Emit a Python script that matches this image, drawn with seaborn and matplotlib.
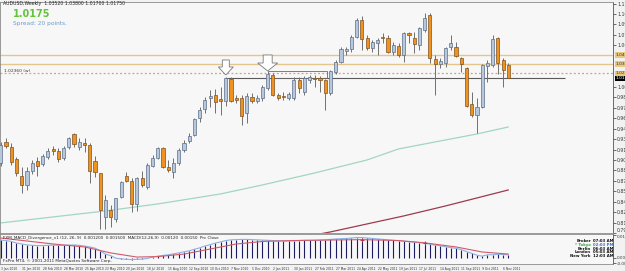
import matplotlib
matplotlib.use('Agg')
import matplotlib.pyplot as plt
import matplotlib.transforms as mtransforms
from matplotlib.patches import Polygon, Rectangle
import seaborn as sns

sns.set_style('white')
plt.rcParams['font.family'] = ['DejaVu Sans']

# AUDUSD weekly, bar 0 = week of 3 Jan 2010 ... bar 97 = week of 13 Nov 2011
opens = [0.8980, 0.9274, 0.9204, 0.9036, 0.8798, 0.8672, 0.8868, 0.9008, 0.8966, 0.9064,
         0.9176, 0.9148, 0.9050, 0.9204, 0.9386, 0.9204, 0.9260, 0.9232, 0.9008, 0.8840,
         0.8224, 0.8322, 0.8196, 0.8504, 0.8798, 0.8728, 0.8406, 0.8770, 0.8644, 0.8938,
         0.9050, 0.9190, 0.8924, 0.8854, 0.8980, 0.9162, 0.9288, 0.9372, 0.9610, 0.9736,
         0.9890, 0.9932, 0.9876, 0.9848, 1.0156, 0.9890, 0.9890, 0.9680, 0.9904, 0.9848,
         0.9890, 1.0030, 1.0212, 0.9932, 0.9918, 0.9890, 0.9890, 1.0142, 0.9974, 1.0142,
         1.0170, 1.0170, 1.0142, 0.9960, 1.0254, 1.0394, 1.0548, 1.0576, 1.0744, 1.0982,
         1.0730, 1.0590, 1.0660, 1.0744, 1.0730, 1.0534, 1.0618, 1.0492, 1.0800, 1.0730,
         1.0632, 1.0842, 1.1052, 1.0436, 1.0366, 1.0380, 1.0604, 1.0604, 1.0450, 1.0310,
         0.9806, 0.9652, 0.9764, 1.0338, 1.0352, 1.0730, 1.0422, 1.0352]
highs = [0.9274, 0.9330, 0.9260, 0.9064, 0.8924, 0.8924, 0.9022, 0.9064, 0.9106, 0.9190,
         0.9218, 0.9190, 0.9218, 0.9344, 0.9400, 0.9330, 0.9330, 0.9260, 0.9078, 0.8840,
         0.8532, 0.8392, 0.8490, 0.8728, 0.8854, 0.8770, 0.8784, 0.8868, 0.8980, 0.9092,
         0.9204, 0.9204, 0.9022, 0.9050, 0.9190, 0.9302, 0.9400, 0.9610, 0.9764, 0.9904,
         1.0002, 1.0016, 1.0044, 1.0184, 1.0184, 0.9932, 0.9932, 0.9960, 0.9960, 0.9932,
         1.0072, 1.0254, 1.0240, 0.9960, 0.9974, 0.9974, 1.0184, 1.0184, 1.0198, 1.0212,
         1.0212, 1.0198, 1.0156, 1.0282, 1.0422, 1.0604, 1.0604, 1.0772, 1.1010, 1.1038,
         1.0772, 1.0702, 1.0730, 1.0800, 1.0772, 1.0674, 1.0660, 1.0814, 1.0814, 1.0814,
         1.0884, 1.1080, 1.1080, 1.0492, 1.0450, 1.0604, 1.0772, 1.0674, 1.0464, 1.0324,
         0.9974, 0.9890, 1.0366, 1.0422, 1.0772, 1.0744, 1.0450, 1.0380]
lows = [0.8938, 0.9190, 0.8952, 0.8798, 0.8560, 0.8602, 0.8826, 0.8798, 0.8938, 0.9036,
        0.9092, 0.8994, 0.9022, 0.9176, 0.9204, 0.9162, 0.9134, 0.8700, 0.8784, 0.8056,
        0.8056, 0.8084, 0.8154, 0.8490, 0.8714, 0.8294, 0.8308, 0.8644, 0.8616, 0.8924,
        0.9036, 0.8910, 0.8854, 0.8770, 0.8952, 0.9134, 0.9260, 0.9358, 0.9554, 0.9680,
        0.9764, 0.9680, 0.9652, 0.9778, 0.9834, 0.9820, 0.9512, 0.9540, 0.9820, 0.9820,
        0.9848, 1.0002, 0.9918, 0.9862, 0.9862, 0.9862, 0.9862, 0.9960, 0.9932, 1.0100,
        1.0044, 0.9974, 0.9722, 0.9932, 1.0226, 1.0380, 1.0492, 1.0534, 1.0730, 1.0562,
        1.0562, 1.0534, 1.0492, 1.0660, 1.0520, 1.0492, 1.0464, 1.0394, 1.0660, 1.0520,
        1.0562, 1.0814, 1.0380, 0.9932, 1.0310, 1.0324, 1.0562, 1.0464, 1.0254, 0.9764,
        0.9624, 0.9400, 0.9750, 1.0114, 1.0324, 1.0226, 1.0044, 1.0170]
closes = [0.9232, 0.9218, 0.8994, 0.8840, 0.8672, 0.8868, 0.8980, 0.8938, 0.9078, 0.9148,
          0.9148, 0.9036, 0.9190, 0.9330, 0.9246, 0.9274, 0.9232, 0.8868, 0.8854, 0.8322,
          0.8462, 0.8224, 0.8490, 0.8714, 0.8728, 0.8406, 0.8770, 0.8672, 0.8952, 0.9050,
          0.9190, 0.8924, 0.8882, 0.8980, 0.9162, 0.9260, 0.9358, 0.9596, 0.9722, 0.9862,
          0.9918, 0.9834, 0.9848, 1.0170, 0.9848, 0.9862, 0.9638, 0.9918, 0.9848, 0.9890,
          1.0044, 1.0226, 0.9932, 0.9890, 0.9904, 0.9946, 1.0142, 1.0030, 1.0170, 1.0184,
          1.0156, 1.0142, 0.9960, 1.0268, 1.0394, 1.0576, 1.0576, 1.0744, 1.0982, 1.0716,
          1.0590, 1.0674, 1.0702, 1.0730, 1.0534, 1.0632, 1.0492, 1.0800, 1.0772, 1.0646,
          1.0870, 1.1010, 1.0450, 1.0366, 1.0408, 1.0590, 1.0660, 1.0478, 1.0366, 0.9778,
          0.9652, 0.9764, 1.0352, 1.0380, 1.0716, 1.0380, 1.0282, 1.0175]

# moving averages read at a few bars
ma_green_bars = [0, 10, 20, 30, 42, 50, 60, 70, 76, 85, 91, 97]
ma_green_vals = [0.8140, 0.8224, 0.8308, 0.8406, 0.8546, 0.8672, 0.8840, 0.9022, 0.9176, 0.9302, 0.9386, 0.9484]
ma_red_bars = [55, 63, 70, 77, 85, 91, 97]
ma_red_vals = [0.7902, 0.8014, 0.8126, 0.8238, 0.8378, 0.8490, 0.8602]

# MACD histogram / main line, one value per bar
macd_vals = [0.0076, 0.0074, 0.0070, 0.0063, 0.0059, 0.0055, 0.0053, 0.0052, 0.0052, 0.0053,
             0.0054, 0.0053, 0.0053, 0.0054, 0.0055, 0.0053, 0.0050, 0.0046, 0.0041, 0.0029,
             0.0015, 0.0008, -0.0003, -0.0006, -0.0008, -0.0009, -0.0008, -0.0007, -0.0004, 0.0002,
             0.0006, 0.0009, 0.0012, 0.0016, 0.0020, 0.0025, 0.0029, 0.0036, 0.0042, 0.0050,
             0.0056, 0.0063, 0.0068, 0.0074, 0.0077, 0.0078, 0.0079, 0.0079, 0.0078, 0.0077,
             0.0076, 0.0075, 0.0074, 0.0073, 0.0072, 0.0072, 0.0073, 0.0074, 0.0075, 0.0075,
             0.0075, 0.0076, 0.0077, 0.0079, 0.0081, 0.0082, 0.0083, 0.0085, 0.0087, 0.0087,
             0.0085, 0.0083, 0.0081, 0.0079, 0.0077, 0.0075, 0.0073, 0.0071, 0.0069, 0.0067,
             0.0065, 0.0062, 0.0058, 0.0054, 0.0051, 0.0047, 0.0043, 0.0040, 0.0034, 0.0026,
             0.0018, 0.0010, 0.0006, 0.0012, 0.0012, 0.0014, 0.0013, 0.0012]
signal_bars = [0, 5, 10, 16, 21, 26, 30, 35, 40, 45, 50, 56, 62, 69, 76, 81, 87, 92, 97]
signal_vals = [0.0085, 0.0072, 0.0059, 0.0046, 0.0020, 0.0002, 0.0004, 0.0015, 0.0037, 0.0059,
               0.0070, 0.0074, 0.0076, 0.0078, 0.0074, 0.0064, 0.0046, 0.0024, 0.0015]
cross_bars = [69, 81]
cross_vals = [0.0078, 0.0064]

# levels drawn on the chart
level_lines = [1.0492, 1.0366]
dotted_level = 1.0236
support_level = 1.0170

# regular axis labels (the ones hidden under the level tags are left out)
price_ticks = [0.79990, 0.81450, 0.82910, 0.84370, 0.85830, 0.87290, 0.88750, 0.90210,
               0.91670, 0.93130, 0.94590, 0.96050, 0.97510, 0.98970, 1.00430,
               1.06270, 1.07730, 1.09190, 1.10650, 1.12110]
price_labels = ['%.5f' % p for p in price_ticks]
macd_ticks = [0.01003, 0.0, -0.0026]
macd_labels = ['0.01003', '0.00', '-0.0026']
date_ticks = list(range(0, 98, 4))
date_labels = ['3 Jan 2010', '31 Jan 2010', '28 Feb 2010', '28 Mar 2010', '25 Apr 2010',
               '23 May 2010', '20 Jun 2010', '18 Jul 2010', '15 Aug 2010', '12 Sep 2010',
               '10 Oct 2010', '7 Nov 2010', '5 Dec 2010', '2 Jan 2011', '30 Jan 2011',
               '27 Feb 2011', '27 Mar 2011', '24 Apr 2011', '22 May 2011', '19 Jun 2011',
               '17 Jul 2011', '14 Aug 2011', '11 Sep 2011', '9 Oct 2011', '6 Nov 2011']

W, H = 625, 271
fig = plt.figure(figsize=(W / 100, H / 100), dpi=100, facecolor='#f2f2f2')


def fx(px):
    return px / W


def fy(py):
    return 1 - py / H


bg = '#f7f7f7'
ax = fig.add_axes([0, fy(233), fx(613), (233 - 2) / H], facecolor=bg)
axm = fig.add_axes([0, fy(264), fx(613), (264 - 234) / H], facecolor=bg)

xl = (-0.153, 116.99)
px_bar = 5.233
px_price = 0.0014

bars = list(range(len(opens)))

# moving averages under the candles
sns.lineplot(x=ma_green_bars, y=ma_green_vals, ax=ax, color='#a3d6bf', lw=0.9, zorder=2)
sns.lineplot(x=ma_red_bars, y=ma_red_vals, ax=ax, color='#9e3a4e', lw=0.9, zorder=2)

# levels
for lv in level_lines:
    ax.axhline(lv, color='#e4c68c', lw=1.0, zorder=1)
ax.axhline(dotted_level, color='#cfa56a', lw=0.9, ls=(0, (1.5, 1.8)), zorder=1)
ax.hlines(support_level, 42.85, 107.8, color='#5a5a5a', lw=0.8, zorder=1)
ax.add_patch(Rectangle((51.1, support_level), 11.2, 1.0268 - support_level,
                       fill=False, ec='#6a6a6a', lw=0.6, zorder=1))

# candles
bull_fill, bull_edge = '#b7c7dc', '#5d6f88'
bear_fill, bear_edge = '#f0921f', '#7e5220'
fills = [bull_fill if c >= o else bear_fill for o, c in zip(opens, closes)]
edges = [bull_edge if c >= o else bear_edge for o, c in zip(opens, closes)]
ax.vlines(bars, lows, highs, color='#707070', lw=0.7, zorder=3)
bottoms = [min(o, c) for o, c in zip(opens, closes)]
heights = [max(abs(c - o), 0.0006) for o, c in zip(opens, closes)]
ax.bar(bars, heights, bottom=bottoms, width=0.6, color=fills, edgecolor=edges,
       linewidth=0.5, zorder=4)


def down_arrow(xc, tip, width_px, height_px, shaft_px, head_px):
    hw = width_px / 2 / px_bar
    sw = shaft_px / 2 / px_bar
    base = tip + head_px * px_price
    top = tip + height_px * px_price
    pts = [(xc, tip), (xc + hw, base), (xc + sw, base), (xc + sw, top),
           (xc - sw, top), (xc - sw, base), (xc - hw, base)]
    ax.add_patch(Polygon(pts, closed=True, fc='white', ec='#7a7a7a', lw=0.6, zorder=5))


down_arrow(43, highs[43] + 2 * px_price, 15, 15, 7, 8)
down_arrow(51, highs[51] + 1 * px_price, 20, 16, 9, 8)

ax.set_xlim(*xl)
ax.set_ylim(0.8000, 1.1234)
ax.set_xticks([])
ax.yaxis.tick_right()
ax.set_yticks(price_ticks)
ax.set_yticklabels(price_labels)
ax.tick_params(axis='y', length=2, width=0.5, pad=1, labelsize=3.3, colors='#333333')
ax.get_yticklabels()[0].set_va('bottom')
for s in ax.spines.values():
    s.set_color('#8a8a8a')
    s.set_linewidth(0.6)
ax.spines['right'].set_color('#555555')

# highlighted price labels on the axis
tr = mtransforms.blended_transform_factory(ax.transAxes, ax.transData)
for lv in level_lines + [dotted_level]:
    ax.text(1.004, lv, '%.5f' % lv, transform=tr, fontsize=3.2, va='center', ha='left',
            color='#333333', clip_on=False, zorder=6,
            bbox=dict(facecolor='#e9c87f', edgecolor='none', pad=0.4))
ax.text(1.004, closes[-1] - 0.0006, '%.5f' % closes[-1], transform=tr, fontsize=3.2, va='center',
        ha='left', color='white', clip_on=False, zorder=7,
        bbox=dict(facecolor='black', edgecolor='none', pad=0.4))

# MACD panel
axm.vlines(bars, 0, macd_vals, color='#1d1d66', lw=0.8, zorder=2)
sns.lineplot(x=bars, y=macd_vals, ax=axm, color='#8db0e2', lw=0.8, zorder=3)
sns.lineplot(x=signal_bars, y=signal_vals, ax=axm, color='#d25a6a', lw=0.8, zorder=3)
axm.plot(cross_bars, cross_vals, ls='none', marker='+', ms=3, mew=0.7, color='#c8303c', zorder=4)
axm.set_xlim(*xl)
axm.set_ylim(-0.00283, 0.01025)
axm.yaxis.tick_right()
axm.set_yticks(macd_ticks)
axm.set_yticklabels(macd_labels)
axm.tick_params(axis='y', length=2, width=0.5, pad=1, labelsize=3.0, colors='#333333')
axm.get_yticklabels()[0].set_va('top')
axm.set_xticks(date_ticks)
axm.set_xticklabels(date_labels, ha='left')
axm.tick_params(axis='x', length=2, width=0.5, pad=0.5, labelsize=2.2, colors='#333333')
for s in axm.spines.values():
    s.set_color('#8a8a8a')
    s.set_linewidth(0.6)
axm.spines['right'].set_color('#555555')

# header texts
fig.text(fx(3), fy(4), 'AUDUSD,Weekly  %.5f %.5f %.5f %.5f' % (opens[-1], highs[-1], lows[-1], closes[-1]),
         fontsize=3.3, color='#222222', va='center')
fig.text(fx(13), fy(14), '%.4f' % closes[-1], fontsize=7, color='#62c43a', fontweight='bold', va='center')
fig.text(fx(13), fy(24), 'Spread: 20 points.', fontsize=4.2, color='#6d9bc9', va='center')
fig.text(fx(4), fy(71), '%.5f (w)' % dotted_level, fontsize=3.2, color='#333333', va='center')

fig.text(fx(3), fy(238), 'FXM_MACD_Divergence_v1 (12, 26, 9)  0.001200  0.001500  MACD(12,26,9)  0.00120  0.00150  Prc Close',
         fontsize=3.0, color='#222222', va='center')
fig.text(fx(3), fy(261), 'FxPro MT4, \u00a9 2001-2011 MetaQuotes Software Corp.', fontsize=3.0,
         color='#222222', va='center')

clock_names = ['Broker', '* Tokyo', 'Berlin', 'London', 'New York']
clock_times = ['07:03 AM', '02:03 PM', '06:03 AM', '05:03 AM', '12:03 AM']
name_colors = ['#111111', '#3fa13f', '#111111', '#111111', '#111111']
time_colors = ['#111111', '#3f6fc8', '#111111', '#111111', '#111111']
for i, (n, t) in enumerate(zip(clock_names, clock_times)):
    yy = 241 + 3.8 * i
    fig.text(fx(591), fy(yy), n, fontsize=2.8, color=name_colors[i], ha='right', va='center',
             fontweight='bold')
    fig.text(fx(593), fy(yy), t, fontsize=2.8, color=time_colors[i], ha='left', va='center',
             fontweight='bold')

fig.savefig('out.png', dpi=100, facecolor=fig.get_facecolor())
